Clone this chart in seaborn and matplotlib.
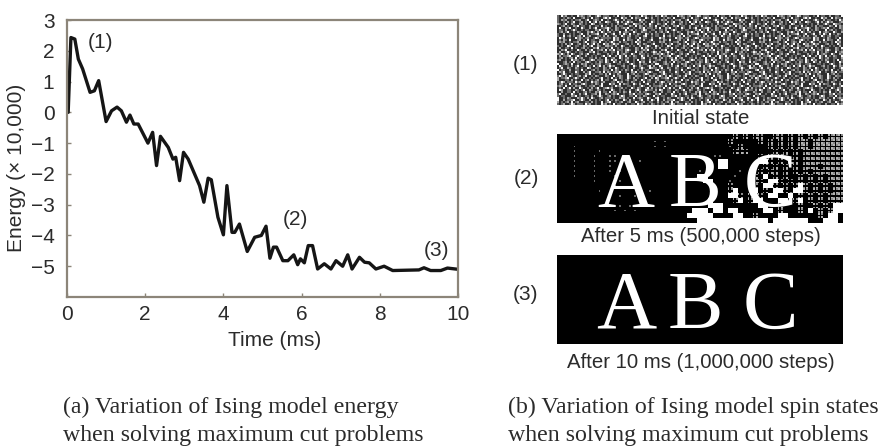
import numpy as np
import pandas as pd
import seaborn as sns
import matplotlib.pyplot as plt

# energy curve
time_ms = [0.03, 0.10, 0.20, 0.29, 0.40, 0.59, 0.70, 0.81, 1.00, 1.14, 1.28, 1.39, 1.52, 1.61, 1.71,
           1.82, 2.07, 2.19, 2.29, 2.39, 2.59, 2.71, 2.78, 2.88, 2.98, 3.10, 3.39, 3.50, 3.61, 3.69,
           3.86, 4.00, 4.09, 4.22, 4.29, 4.41, 4.61, 4.80, 4.97, 5.09, 5.19, 5.28, 5.36, 5.52, 5.65,
           5.80, 5.90, 5.97, 6.07, 6.17, 6.28, 6.41, 6.58, 6.75, 6.88, 7.05, 7.18, 7.29, 7.48, 7.61,
           7.73, 7.90, 8.11, 8.33, 9.00, 9.13, 9.30, 9.56, 9.73, 10.0]
energy = [0.00, 2.43, 2.38, 1.73, 1.41, 0.65, 0.70, 1.03, -0.30, 0.05, 0.17, 0.05, -0.32, -0.09, -0.38,
          -0.38, -1.00, -0.65, -1.73, -0.78, -1.14, -1.52, -1.46, -2.22, -1.30, -1.52, -2.38, -2.92, -2.14, -2.19,
          -3.41, -3.98, -2.38, -3.90, -3.90, -3.63, -4.52, -4.06, -4.00, -3.70, -4.74, -4.38, -4.38, -4.82, -4.82,
          -4.63, -4.95, -4.76, -4.89, -4.33, -4.33, -5.09, -4.92, -5.09, -4.82, -5.00, -4.63, -5.09, -4.71, -4.87,
          -4.89, -5.09, -5.00, -5.14, -5.12, -5.05, -5.14, -5.14, -5.06, -5.10]
x_ticks = [0, 2, 4, 6, 8, 10]
y_ticks = [3, 2, 1, 0, -1, -2, -3, -4, -5]

# speckle tile for the initial state panel (grey levels 0-3)
noise_tile = ["1031200100312101200132011",
              "0120103011002310010210300",
              "2001011200130012103001021",
              "0130200310010201300120103",
              "1002101003200110021013002",
              "3010012010021301100200110",
              "0021300100310020130011203",
              "1100021301001102001310010",
              "0203100120130010210002131",
              "1010013002011230013100200",
              "0301200011020100301201012"]
noise_shift = [0, 11, 4, 17, 8, 22, 2, 14, 19, 6, 12, 24, 9, 3, 16, 21, 7]
noise_grey = [0.18, 0.42, 0.65, 0.97]

# leftover unsettled spins after 5 ms, coarse grid
after_5ms = ["...................................:.:.::..::.:.:.:.:.::::",
             "...................,.,............:.....:.:.:.:.::.::::::",
             "...,...............,.,............,.:.....:.:.:.::.::::::",
             "...,....,..........................:::.....:.:.:.::::::::",
             "...,...,..,,...................,,.......:.:.::.:.::::::::",
             "...,...,..,,....,...............##......##:.:.::.::::::::",
             "...,...,..,.....................##.......:.:.:.:.:::.::::",
             "...,...,..,.,.,.............,.......,...:.::.:.:.:.::::::",
             "...,...,...,...,............##.....,...:.#.:.:..:.:.:.:::",
             ".......,....,..,.............##...,....::.##:.:.:.:.:.:::",
             "...........,..................,...:....:.##:.:.:#:.:.:.::",
             "........,.........,...............:#...#.:.##:.##:.:.:.::",
             "............,..,..................##:.:.:.##..#.:.:.:.:::",
             "..............................#....:#.:##...##.:#.:.:.:::",
             "............,.,.,.............###.......##..:...:..:.:.##",
             "...........,.,.,...........###.##.##.....##.:...:.#.:.:##",
             "..........................#####....##..:....##......:.##",
             "............................##############.#######...###"]
dot_patterns = {".": [[0, 0, 0], [0, 0, 0], [0, 0, 0]],
                ",": [[0, 0, 0], [0, 0.4, 0], [0, 0, 0]],
                ":": [[0.7, 0, 0.55], [0, 0, 0], [0.55, 0, 0.7]],
                "#": [[1, 1, 1], [1, 1, 1], [1, 1, 1]]}

spin_cmap = "gray"
fig = plt.figure(figsize=(8.79, 4.46), dpi=100)
W, H = 879.0, 446.0
sans = ["Liberation Sans", "DejaVu Sans"]
serif = ["Liberation Serif", "DejaVu Serif"]
label_col = "#2b2b2b"


def pixel_axes(x0, y0, x1, y1):
    return fig.add_axes([x0 / W, 1 - y1 / H, (x1 - x0) / W, (y1 - y0) / H])


def put(x, y, s, size=15, family=sans, ha="center", color=label_col):
    fig.text(x / W, 1 - y / H, s, fontsize=size, family=family, ha=ha, va="center", color=color)


sns.set_style("white")

# (a) energy curve
ax = pixel_axes(67, 20, 458, 297)
df = pd.DataFrame({"time": time_ms, "energy": energy})
sns.lineplot(data=df, x="time", y="energy", color="#151515", linewidth=2.4, sort=False,
             errorbar=None, ax=ax)
ax.set_xlim(0, 10)
ax.set_ylim(-6, 3)
ax.set_xticks(x_ticks)
ax.set_yticks(y_ticks)
ax.set_yticklabels([str(v).replace("-", "\u2212") for v in y_ticks])
ax.tick_params(direction="in", bottom=True, left=True, length=3, width=1, color="#8c8579",
               labelcolor=label_col, labelsize=15)
ax.tick_params(axis="y", pad=9)
ax.tick_params(axis="x", pad=6)
for lab in ax.get_xticklabels() + ax.get_yticklabels():
    lab.set_family(sans)
ax.set_xlabel("Time (ms)", fontsize=15, family=sans, color=label_col)
ax.set_ylabel("Energy (\u00d7 10,000)", fontsize=15, family=sans, color=label_col)
ax.xaxis.set_label_coords(0.53, -0.123)
ax.yaxis.set_label_coords(-0.105, 0.467)
for s in ax.spines.values():
    s.set_color("#8c8579")
    s.set_linewidth(1.6)
ax.text(0.85, 2.27, "(1)", fontsize=15, family=sans, color=label_col, ha="center", va="center")
ax.text(5.83, -3.48, "(2)", fontsize=15, family=sans, color=label_col, ha="center", va="center")
ax.text(9.46, -4.50, "(3)", fontsize=15, family=sans, color=label_col, ha="center", va="center")

# (b) spin state panels
noise_rows = []
for r in range(45):
    a = np.roll([int(c) for c in noise_tile[r % 11]], noise_shift[r % 17])
    b = np.roll([int(c) for c in noise_tile[(r + 5) % 11]][::-1], noise_shift[(r + 9) % 17])
    noise_rows.append(np.tile(np.r_[a, b], 3)[:143])
noise = np.array(noise_grey)[np.array(noise_rows)]
mask = np.block([[np.array(dot_patterns[c]) for c in row.ljust(57, ".")[:57]] for row in after_5ms])
final = np.zeros((18, 57))

panels = [(15, 105, noise), (134, 223, mask), (255, 344, final)]
for top, bottom, grid in panels:
    pax = pixel_axes(557, top, 843, bottom)
    sns.heatmap(grid, cmap=spin_cmap, vmin=0, vmax=1, cbar=False, xticklabels=False,
                yticklabels=False, ax=pax)

# ABC letters sit on top of the dark panels
for cx, letter in zip([626, 695, 770], "ABC"):
    fig.text(cx / W, 1 - 206 / H, letter, fontsize=57, family=serif, color="white", ha="center", va="baseline")
    fig.text(cx / W, 1 - 328 / H, letter, fontsize=60, family=serif, color="white", ha="center", va="baseline")

put(526, 65, "(1)")
put(526, 178, "(2)")
put(526, 295, "(3)")
put(701, 118, "Initial state", size=14.7)
put(701, 237, "After 5 ms (500,000 steps)", size=14.7)
put(701, 362, "After 10 ms (1,000,000 steps)", size=14.7)

put(63, 407, "(a) Variation of Ising model energy", size=17.2, family=serif, ha="left")
put(63, 436, "when solving maximum cut problems", size=17.2, family=serif, ha="left")
put(508, 407, "(b) Variation of Ising model spin states", size=17.2, family=serif, ha="left")
put(508, 436, "when solving maximum cut problems", size=17.2, family=serif, ha="left")

fig.savefig("out.png", dpi=100)
